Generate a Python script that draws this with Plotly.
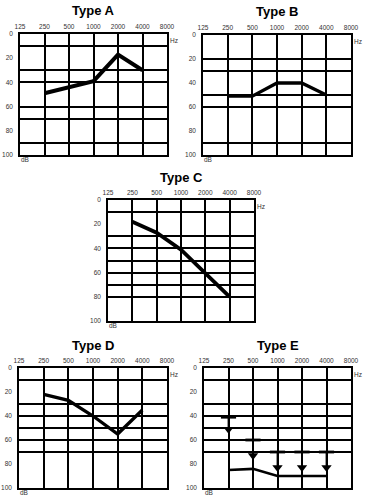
import math
import plotly.graph_objects as go

# ---------------- data ----------------
freqs = [125, 250, 500, 1000, 2000, 4000, 8000]
freq_labels = ["125", "250", "500", "1000", "2000", "4000", "8000"]
db_ticks = [0, 20, 40, 60, 80, 100]
db_labels = ["0", "20", "40", "60", "80", "100"]

test_freqs = [250, 500, 1000, 2000, 4000]
type_a_db = [49, 44, 39, 17, 30]
type_b_db = [51, 51, 40, 40, 50]
type_c_db = [18, 27, 41, 61, 80]
type_d_db = [22, 27, 40, 55, 35]
type_e_air_db = [85, 84, 90, 90, 90]
type_e_bone_db = [41, 60, 70, 70, 70]
type_e_arrow_db = [51, 73, 83, 83, 83]

titles = ["Type A", "Type B", "Type C", "Type D", "Type E"]

# ---------------- layout (pixel boxes in window coordinates) ----------------
W, H = 371, 498
panels = [
    dict(title=titles[0], vals=type_a_db, box=(20, 167, 34, 155), grid=[10, 30, 40, 60, 70, 90], lw=4),
    dict(title=titles[1], vals=type_b_db, box=(203, 351, 35, 155), grid=[20, 30, 50, 60, 90], lw=3.3),
    dict(title=titles[2], vals=type_c_db, box=(108, 254, 200, 321), grid=[10, 30, 40, 50, 60, 70, 80], lw=3.8),
    dict(title=titles[3], vals=type_d_db, box=(19, 167, 368, 488), grid=[10, 30, 40, 50, 60, 70], lw=3.3),
    dict(title=titles[4], vals=type_e_air_db, box=(204, 351, 368, 488), grid=[10, 30, 40, 50, 60, 70], lw=2.7),
]
DASH_OCT = 0.31  # half-length of a bone-conduction dash, in octaves

fig = go.Figure()
annotations = []
label_font = dict(family="Liberation Sans, Arial, sans-serif", size=6.5, color="#333")

for i, p in enumerate(panels, start=1):
    xs = "" if i == 1 else str(i)
    xa, ya = "x" + xs, "y" + xs
    l, r, t, b = p["box"]
    fig.add_trace(go.Scatter(
        x=test_freqs, y=p["vals"], mode="lines",
        line=dict(color="black", width=p["lw"]),
        xaxis=xa, yaxis=ya, showlegend=False, hoverinfo="skip",
    ))
    common = dict(showline=True, linecolor="black", linewidth=1.5, mirror=True,
                  zeroline=False, ticks="", tickfont=label_font, fixedrange=True,
                  automargin=False)
    fig.update_layout(**{
        "xaxis" + xs: dict(
            domain=[l / W, r / W], anchor=ya, type="log",
            range=[math.log10(125), math.log10(8000)], side="top",
            tickmode="array", tickvals=freqs, ticktext=freq_labels,
            showgrid=True, gridcolor="black", gridwidth=1.5,
            ticklabelstandoff=1, **common),
        "yaxis" + xs: dict(
            domain=[1 - b / H, 1 - t / H], anchor=xa, range=[100, 0],
            tickmode="array", tickvals=db_ticks, ticktext=db_labels,
            showgrid=False, ticklabelstandoff=4,
            minor=dict(tickmode="array", tickvals=p["grid"], showgrid=True,
                       gridcolor="black", gridwidth=1.5, ticks=""),
            **common),
    })
    annotations.append(dict(
        text="<b>%s</b>" % p["title"], xref=xa + " domain", yref=ya + " domain",
        x=0.5, y=1, yshift=23, xanchor="center", yanchor="middle", showarrow=False,
        font=dict(family="Liberation Sans, Arial, sans-serif", size=13, color="black")))
    annotations.append(dict(
        text="Hz", xref=xa + " domain", yref=ya + " domain", x=1, y=1,
        xanchor="left", yanchor="top", xshift=1, yshift=-1, showarrow=False,
        font=label_font))
    annotations.append(dict(
        text="dB", xref=xa + " domain", yref=ya + " domain", x=0, y=0,
        xanchor="left", yanchor="middle", xshift=0, yshift=-4, showarrow=False,
        borderpad=0, font=label_font))

# Type E bone-conduction marks: dashes, stems and arrowheads
dx, dy, sx, sy = [], [], [], []
for f, b0, a0 in zip(test_freqs, type_e_bone_db, type_e_arrow_db):
    dx += [f / 2 ** DASH_OCT, f * 2 ** DASH_OCT, None]
    dy += [b0, b0, None]
    sx += [f, f, None]
    sy += [b0, a0, None]
fig.add_trace(go.Scatter(x=dx, y=dy, mode="lines", line=dict(color="black", width=2.8),
                         xaxis="x5", yaxis="y5", showlegend=False, hoverinfo="skip"))
fig.add_trace(go.Scatter(x=sx, y=sy, mode="lines", line=dict(color="black", width=1.8),
                         xaxis="x5", yaxis="y5", showlegend=False, hoverinfo="skip"))
fig.add_trace(go.Scatter(x=test_freqs, y=type_e_arrow_db, mode="markers",
                         marker=dict(symbol="triangle-down", size=9, color="black",
                                     line=dict(width=0)),
                         xaxis="x5", yaxis="y5", showlegend=False, hoverinfo="skip"))

fig.update_layout(
    width=W, height=H, margin=dict(l=0, r=0, t=0, b=0),
    paper_bgcolor="white", plot_bgcolor="white",
    annotations=annotations, showlegend=False,
)
fig.write_html("out.html", config={"displayModeBar": False},
               post_script="document.body.style.margin='0';document.body.style.overflow='hidden';")
